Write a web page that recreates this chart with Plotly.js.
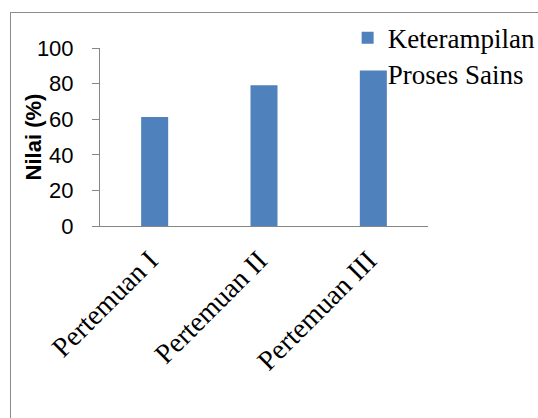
<!DOCTYPE html>
<html>
<head>
<meta charset="utf-8">
<script src="https://cdn.plot.ly/plotly-3.0.1.min.js"></script>
<style>
  html, body { margin: 0; padding: 0; background: #ffffff; overflow: hidden; }
  body { width: 538px; height: 418px; position: relative; }
  /* chart frame, open to the right and bottom edges of the page */
  #frame { position: absolute; left: 10px; top: 12px; width: 700px; height: 600px;
           border: 1px solid #8c8c8c; box-sizing: border-box; }
  #chart { position: absolute; left: 0; top: 0; width: 538px; height: 418px; }
</style>
</head>
<body>
<div id="frame"></div>
<div id="chart"></div>
<script>
// Percentage score of science process skills per meeting
const categories = ["Pertemuan I", "Pertemuan II", "Pertemuan III"];
const values = [61.2, 79.1, 87.4];
const seriesLines = ["Keterampilan", "Proses Sains"];
const yTickVals = [0, 20, 40, 60, 80, 100];
const yTitle = "Nilai (%)";

const axisGray = "#868686";
const serif = "Liberation Serif";
const sans = "Liberation Sans";

const seriesName = seriesLines.join("<br>");

const trace = {
  type: "bar",
  x: categories,
  y: values,
  name: seriesName,
  showlegend: true,
  marker: { color: "#4f81bd", line: { width: 0 } },
  hoverinfo: "x+y"
};

const layout = {
  width: 538,
  height: 418,
  font: { family: serif, size: 27, color: "#000000" },
  margin: { l: 100, r: 110, t: 48, b: 192, pad: 0, autoexpand: false },
  paper_bgcolor: "rgba(0,0,0,0)",
  plot_bgcolor: "rgba(0,0,0,0)",
  bargap: 0.753,
  showlegend: true,
  legend: {
    x: 0.755, xanchor: "left",
    y: 1.192, yanchor: "top",
    bgcolor: "rgba(0,0,0,0)",
    borderwidth: 0,
    valign: "top",
    font: { family: serif, size: 27, color: "#000000" }
  },
  xaxis: {
    type: "category",
    showline: true, linecolor: axisGray, linewidth: 1,
    ticks: "", showgrid: false, zeroline: false,
    tickangle: -45,
    ticklabelstandoff: 6,
    ticklabelshift: -5,
    tickfont: { family: serif, size: 28, color: "#000000" }
  },
  yaxis: {
    range: [0, 100],
    tickmode: "array", tickvals: yTickVals,
    ticks: "outside", ticklen: 7, tickwidth: 1, tickcolor: axisGray,
    showline: true, linecolor: axisGray, linewidth: 1,
    showgrid: false, zeroline: false,
    ticklabelstandoff: 14,
    tickfont: { family: sans, size: 22, color: "#000000" }
  },
  annotations: [{
    text: yTitle,
    xref: "paper", yref: "paper",
    x: -0.203, y: 0.5,
    xanchor: "center", yanchor: "middle",
    textangle: -90,
    showarrow: false,
    font: { family: sans, size: 22, weight: "bold", color: "#000000" }
  }]
};

Plotly.newPlot("chart", [trace], layout, { displayModeBar: false, staticPlot: true });
</script>
</body>
</html>
